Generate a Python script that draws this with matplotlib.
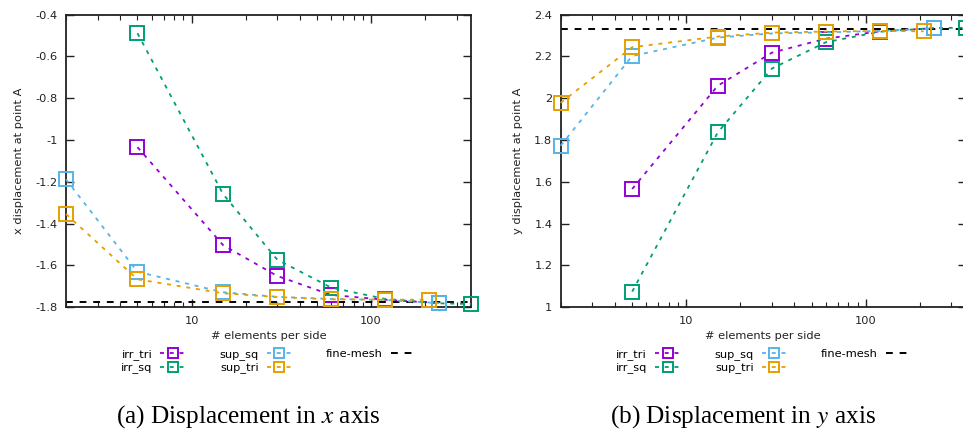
import matplotlib
matplotlib.use('Agg')
import matplotlib.pyplot as plt
from matplotlib.ticker import FixedLocator, FuncFormatter, NullFormatter

plt.rcParams['font.family'] = 'DejaVu Sans'
plt.rcParams['mathtext.fontset'] = 'stix'

# mesh resolutions (elements per side)
n_irr_tri = [5, 15, 30, 60, 120, 240]
n_irr_sq = [5, 15, 30, 60, 120, 240, 360]
n_sup_sq = [2, 5, 15, 30, 60, 120, 240]
n_sup_tri = [2, 5, 15, 30, 60, 120, 210]

# x displacement at point A
ux_irr_tri = [-1.034, -1.503, -1.650, -1.741, -1.764, -1.780]
ux_irr_sq = [-0.489, -1.259, -1.572, -1.706, -1.760, -1.781, -1.784]
ux_sup_sq = [-1.188, -1.630, -1.728, -1.750, -1.760, -1.765, -1.780]
ux_sup_tri = [-1.354, -1.666, -1.733, -1.751, -1.762, -1.763, -1.764]
ux_fine = -1.775

# y displacement at point A
uy_irr_tri = [1.566, 2.060, 2.218, 2.285, 2.320, 2.335]
uy_irr_sq = [1.075, 1.837, 2.142, 2.268, 2.318, 2.336, 2.337]
uy_sup_sq = [1.773, 2.202, 2.290, 2.310, 2.315, 2.322, 2.335]
uy_sup_tri = [1.978, 2.244, 2.295, 2.314, 2.319, 2.322, 2.320]
uy_fine = 2.33

colors = {'irr_tri': '#9400d3', 'irr_sq': '#009e73',
          'sup_sq': '#56b4e9', 'sup_tri': '#e69f00'}

W, H = 963, 436
fig = plt.figure(figsize=(W / 100, H / 100), dpi=100)


def panel(rect, series, fine, ylim, yticks, ylabel, caption, cap_x):
    ax = fig.add_axes(rect)
    for name, xs, ys in series:
        ax.plot(xs, ys, linestyle=(0, (2.2, 3.2)), lw=1.3, color=colors[name],
                marker='s', ms=9.5, mfc='none', mew=1.4, label=name,
                clip_on=False, zorder=3)
    ax.axhline(fine, color='black', lw=1.4, linestyle=(0, (3.5, 3.5)),
               label='fine-mesh', zorder=2)
    ax.set_xscale('log')
    ax.set_xlim(2, 360)
    ax.set_ylim(*ylim)
    ax.set_yticks(yticks)
    ax.yaxis.set_major_formatter(FuncFormatter(lambda v, p: '%g' % round(v, 3)))
    ax.xaxis.set_major_locator(FixedLocator([10, 100]))
    ax.xaxis.set_major_formatter(FuncFormatter(lambda v, p: '%g' % v))
    minors = [2, 3, 4, 5, 6, 7, 8, 9, 20, 30, 40, 50, 60, 70, 80, 90, 200, 300]
    ax.xaxis.set_minor_locator(FixedLocator(minors))
    ax.xaxis.set_minor_formatter(NullFormatter())
    ax.tick_params(which='both', direction='in', top=True, right=True,
                   labelsize=8.2, pad=6, color='#222222', labelcolor='#222222')
    ax.tick_params(which='major', length=6, width=1)
    ax.tick_params(which='minor', length=3.5, width=0.8)
    for s in ax.spines.values():
        s.set_linewidth(1.3)
        s.set_color('#222222')
    ax.set_xlabel('# elements per side', fontsize=8.2, labelpad=4, color='#222222')
    ax.set_ylabel(ylabel, fontsize=8.2, labelpad=8, color='#222222')
    leg = ax.legend(loc='upper center', bbox_to_anchor=(0.5, -0.128), ncol=3,
                    markerfirst=False, frameon=False, fontsize=8.2,
                    handlelength=2.2, handletextpad=0.7, columnspacing=3.0,
                    labelspacing=0.2, borderaxespad=0)
    for h in leg.legend_handles:
        h.set_markersize(7)
    fig.text(cap_x, 1 - 417 / H, caption, family='Liberation Serif',
             fontsize=18.2, ha='center', va='center')
    return ax


panel([66 / W, 1 - 307.3 / H, 405 / W, 292.7 / H],
      [('irr_tri', n_irr_tri, ux_irr_tri), ('irr_sq', n_irr_sq, ux_irr_sq),
       ('sup_sq', n_sup_sq, ux_sup_sq), ('sup_tri', n_sup_tri, ux_sup_tri)],
      ux_fine, (-1.8, -0.4), [-1.8, -1.6, -1.4, -1.2, -1.0, -0.8, -0.6, -0.4],
      'x displacement at point A', '(a) Displacement in $x$ axis', 248 / W)

panel([560.7 / W, 1 - 307.3 / H, 405 / W, 292.7 / H],
      [('irr_tri', n_irr_tri, uy_irr_tri), ('irr_sq', n_irr_sq, uy_irr_sq),
       ('sup_sq', n_sup_sq, uy_sup_sq), ('sup_tri', n_sup_tri, uy_sup_tri)],
      uy_fine, (1.0, 2.4), [1.0, 1.2, 1.4, 1.6, 1.8, 2.0, 2.2, 2.4],
      'y displacement at point A', '(b) Displacement in $y$ axis', 743 / W)

fig.savefig('out.png', dpi=100)
